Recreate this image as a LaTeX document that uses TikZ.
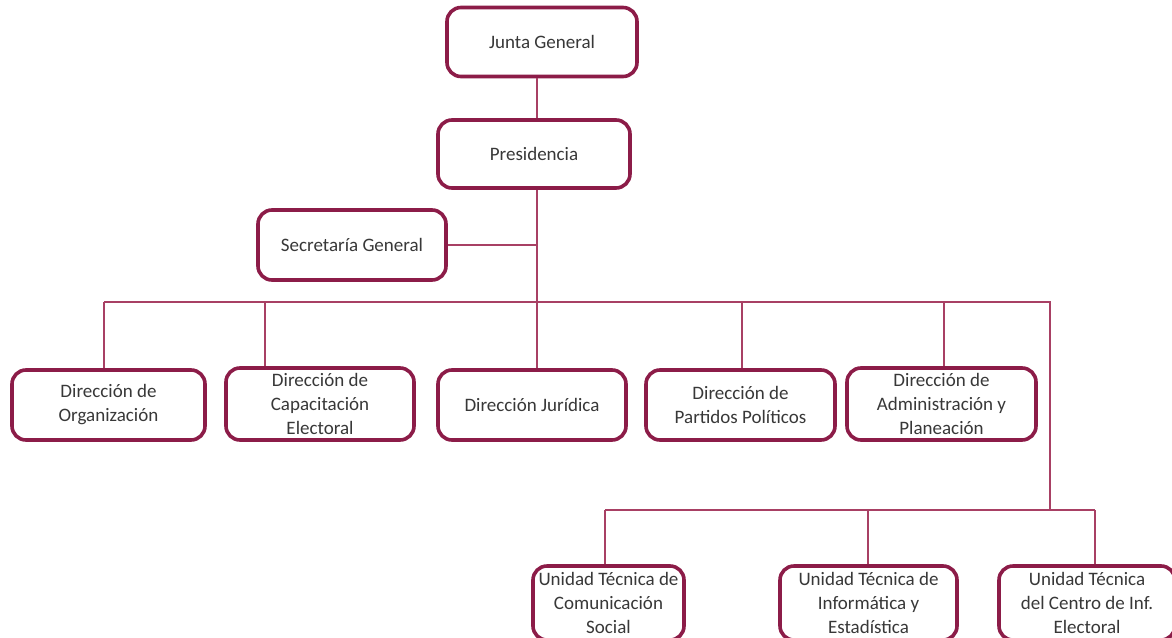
\documentclass[tikz,border=0pt]{standalone}
\usepackage{fontspec}
\setmainfont{Carlito}
\definecolor{granate}{RGB}{140,28,72}
\definecolor{granateclaro}{RGB}{168,64,100}
\tikzset{
    caja/.style={draw=granate, line width=1.8pt, rounded corners=7pt, fill=white,
        text=black!78, align=center, font=\fontsize{9.5}{12}\selectfont, inner sep=2pt},
    enlace/.style={draw=granateclaro, line width=0.8pt}
}
\begin{document}
\begin{tikzpicture}[x=0.5pt, y=-0.5pt]
    % marco (pixel: 1172 x 637)
    \clip (0,0) rectangle (1172,637);
    \useasboundingbox (0,0) rectangle (1172,637);

    % --- Vertice ---
    \node[caja, minimum width=95pt, minimum height=34.5pt] (junta) at (542,42) {Junta General};
    \node[caja, minimum width=96pt, minimum height=34pt] (presidencia) at (534,154) {Presidencia};
    \node[caja, minimum width=94pt, minimum height=35pt] (secretaria) at (352,245) {Secretaría General};

    % --- Direcciones ---
    \node[caja, minimum width=96.5pt, minimum height=35pt] (organizacion) at (108.5,405) {Dirección de\\Organización};
    \node[caja, minimum width=94pt, minimum height=36pt] (capacitacion) at (320,404) {Dirección de\\Capacitación\\Electoral};
    \node[caja, minimum width=94pt, minimum height=35pt] (juridica) at (532,405) {Dirección Jurídica};
    \node[caja, minimum width=94.5pt, minimum height=35pt] (partidos) at (740.5,405) {Dirección de\\Partidos Políticos};
    \node[caja, minimum width=94.5pt, minimum height=36pt] (administracion) at (941.5,404) {Dirección de\\Administración y\\Planeación};

    % --- Unidades Técnicas ---
    \node[caja, minimum width=75.5pt, minimum height=37pt, inner sep=0pt] (unidad1) at (608.5,603) {Unidad Técnica de\\Comunicación\\Social};
    \node[caja, minimum width=88.5pt, minimum height=37pt] (unidad2) at (868.5,603) {Unidad Técnica de\\Informática y\\Estadística};
    \node[caja, minimum width=88pt, minimum height=37pt] (unidad3) at (1087,603) {Unidad Técnica\\del Centro de Inf.\\Electoral};

    % puntos del bus
    \coordinate (tr) at (537,302);
    \coordinate (b1) at (104,302);
    \coordinate (b2) at (265,302);
    \coordinate (b4) at (742,302);
    \coordinate (b5) at (944,302);
    \coordinate (b6) at (1050,302);
    \coordinate (c0) at (1050,510);
    \coordinate (c1) at (605,510);
    \coordinate (c2) at (868,510);
    \coordinate (c3) at (1095,510);

    % --- Conexiones ---
    \draw[enlace] (junta.south -| tr) -- (presidencia.north -| tr);
    \draw[enlace] (presidencia.south -| tr) -- (juridica.north -| tr);
    \draw[enlace] (secretaria.east) -- (secretaria.east -| tr);
    \draw[enlace] (b1) -- (b6) -- (c0);
    \draw[enlace] (b1) -- (b1 |- organizacion.north);
    \draw[enlace] (b2) -- (b2 |- capacitacion.north);
    \draw[enlace] (b4) -- (b4 |- partidos.north);
    \draw[enlace] (b5) -- (b5 |- administracion.north);
    \draw[enlace] (c1) -- (c3);
    \draw[enlace] (c1) -- (c1 |- unidad1.north);
    \draw[enlace] (c2) -- (c2 |- unidad2.north);
    \draw[enlace] (c3) -- (c3 |- unidad3.north);
\end{tikzpicture}
\end{document}
